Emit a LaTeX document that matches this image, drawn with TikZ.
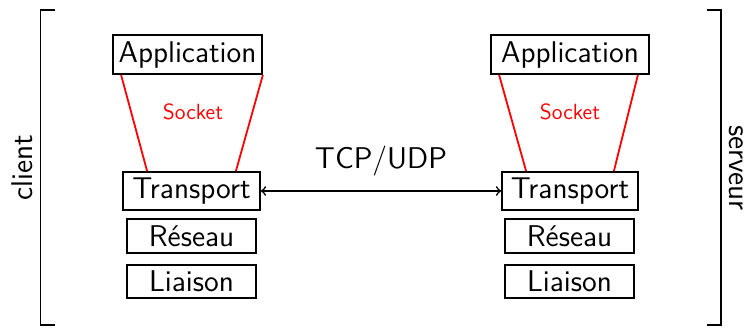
\documentclass[tikz,border=0pt]{standalone}
\usepackage{fontspec}
\begin{document}
\begin{tikzpicture}[x=0.5pt,y=-0.5pt,
  layer/.style={draw,line width=0.9pt,inner sep=0pt,font=\sffamily\fontsize{15}{18}\selectfont},
  sock/.style={red,line width=0.9pt},
  brk/.style={line width=0.9pt},
  big/.style={font=\sffamily\fontsize{15}{18}\selectfont},
  font=\sffamily]
\useasboundingbox (0,0) rectangle (750,327);

% client stack
\node[layer,minimum width=74.5pt,minimum height=19.5pt] (appC) at (187.5,54.5) {Application};
\node[layer,minimum width=68.5pt,minimum height=19pt] (trC) at (191.5,191) {Transport};
\node[layer,minimum width=64.5pt,minimum height=17pt] (resC) at (191.5,236) {Réseau};
\node[layer,minimum width=64.5pt,minimum height=16.5pt] (liaC) at (191.5,281.5) {Liaison};

% server stack
\node[layer,minimum width=79pt,minimum height=19.5pt] (appS) at (570,54.5) {Application};
\node[layer,minimum width=68pt,minimum height=19pt] (trS) at (570,191) {Transport};
\node[layer,minimum width=64.5pt,minimum height=17pt] (resS) at (569.5,236) {Réseau};
\node[layer,minimum width=64.5pt,minimum height=16.5pt] (liaS) at (569.5,281.5) {Liaison};

% sockets
\draw[sock] ([xshift=4.5pt]appC.south west) -- ([xshift=12.5pt]trC.north west);
\draw[sock] (appC.south east) -- ([xshift=-12.5pt]trC.north east);
\node[red,font=\sffamily\fontsize{11}{13}\selectfont] (sockC) at (193,112) {Socket};
\draw[sock] ([xshift=4.5pt]appS.south west) -- ([xshift=12.5pt]trS.north west);
\draw[sock] ([xshift=-6pt]appS.south east) -- ([xshift=-12.5pt]trS.north east);
\node[red,font=\sffamily\fontsize{11}{13}\selectfont] (sockS) at (570,112) {Socket};

% transport link
\draw[<->,line width=0.8pt] (trC.east) -- node[above=4pt,big] (tcp) {TCP/UDP} (trS.west);

% brackets
\coordinate (cTop) at (40.5,10);
\coordinate (cBot) at (40.5,325);
\draw[brk] ([xshift=7pt]cTop) -- (cTop) -- (cBot) -- ([xshift=7pt]cBot);
\coordinate (sTop) at (721,10);
\coordinate (sBot) at (721,325);
\draw[brk] ([xshift=-7pt]sTop) -- (sTop) -- (sBot) -- ([xshift=-7pt]sBot);
\node[rotate=90,big] (client) at (22,168) {client};
\node[rotate=-90,big] (serveur) at (736,168) {serveur};
\end{tikzpicture}
\end{document}
